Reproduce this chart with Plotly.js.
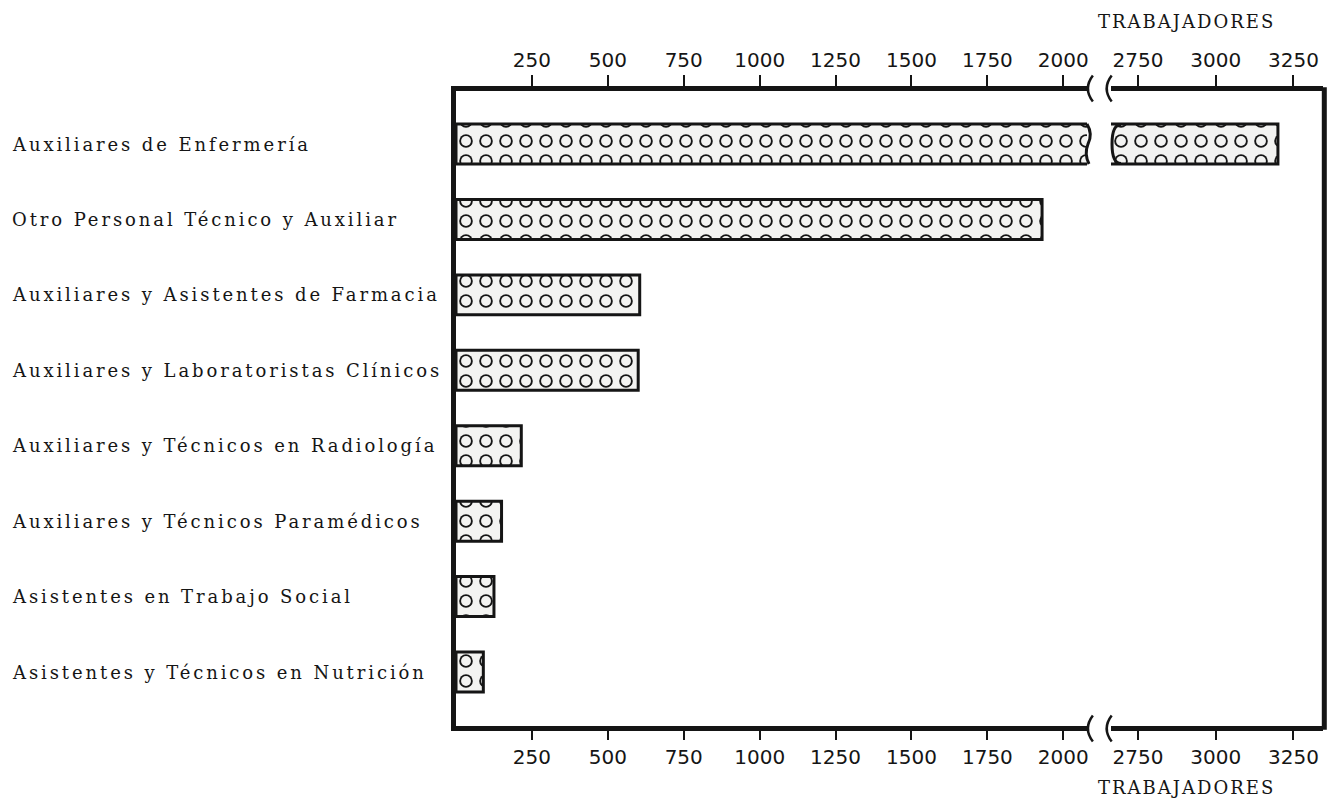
<!DOCTYPE html>
<html>
<head>
<meta charset="utf-8">
<script src="https://cdn.plot.ly/plotly-3.0.1.min.js"></script>
<style>
html, body { margin: 0; padding: 0; background: #ffffff; }
#chart { width: 1338px; height: 801px; }
</style>
</head>
<body>
<div id="chart"></div>
<script>
// ---- data ----
const categories = [
  "Auxiliares de Enfermería",
  "Otro Personal Técnico y Auxiliar",
  "Auxiliares y Asistentes de Farmacia",
  "Auxiliares y Laboratoristas Clínicos",
  "Auxiliares y Técnicos en Radiología",
  "Auxiliares y Técnicos Paramédicos",
  "Asistentes en Trabajo Social",
  "Asistentes y Técnicos en Nutrición"
];
const trabajadores = [3200, 1930, 605, 600, 215, 150, 125, 90];
const ticksLeft = [250, 500, 750, 1000, 1250, 1500, 1750, 2000];
const ticksRight = [2750, 3000, 3250];
const axisTitle = "TRABAJADORES";

// ---- style ----
const ink = "#151515";
const paperFill = "#f3f3f1";
const tickFont = { family: "DejaVu Sans, Liberation Sans, sans-serif", size: 20, color: ink };
const labelFont = { family: "DejaVu Serif, Liberation Serif, serif", size: 18, color: ink };

const idx = categories.map((c, i) => i);

function fillTrace(xa) {
  return {
    type: "bar", orientation: "h", x: trabajadores, y: idx, xaxis: xa, yaxis: "y",
    marker: {
      color: paperFill,
      line: { width: 0 },
      pattern: { shape: ".", fgcolor: ink, bgcolor: paperFill, fillmode: "overlay",
                 fgopacity: 1, size: 20, solidity: 0.363 }
    },
    hoverinfo: "skip", showlegend: false
  };
}
function holeTrace(xa) {
  return {
    type: "bar", orientation: "h", x: trabajadores, y: idx, xaxis: xa, yaxis: "y",
    marker: {
      color: "rgba(0,0,0,0)",
      line: { width: 0 },
      pattern: { shape: ".", fgcolor: paperFill, bgcolor: "rgba(0,0,0,0)", fillmode: "replace",
                 fgopacity: 1, size: 20, solidity: 0.19 }
    },
    hoverinfo: "skip", showlegend: false
  };
}
function outlineTrace(xa) {
  return {
    type: "bar", orientation: "h", x: trabajadores, y: idx, xaxis: xa, yaxis: "y",
    marker: { color: "rgba(0,0,0,0)", line: { width: 3, color: ink } },
    hoverinfo: "skip", showlegend: false
  };
}

const data = [
  fillTrace("x"), holeTrace("x"), outlineTrace("x3"),
  fillTrace("x2"), holeTrace("x2"), outlineTrace("x4")
];

const leftDomain = [0, 0.7278];
const rightDomain = [0.7555, 1];
const leftRange = [0, 2078];
const rightRange = [2663, 3345];

function xax(extra) {
  return Object.assign({
    showline: true, linewidth: 5, linecolor: ink,
    ticks: "outside", ticklen: 10, tickwidth: 2, tickcolor: ink,
    showgrid: false, zeroline: false, tickfont: tickFont,
    anchor: "y", fixedrange: true, tickmode: "array"
  }, extra);
}

const annotations = categories.map((c, i) => ({
  xref: "paper", yref: "y", x: -0.5145, y: i,
  xanchor: "left", yanchor: "middle", showarrow: false,
  text: '<span style="letter-spacing:2.9px">' + c + '</span>',
  font: labelFont
}));
annotations.push({
  xref: "paper", yref: "paper", x: 0.842, y: 1.11, xanchor: "center", yanchor: "middle",
  showarrow: false, text: '<span style="letter-spacing:2px">' + axisTitle + '</span>', font: labelFont
});
annotations.push({
  xref: "paper", yref: "paper", x: 0.842, y: -0.097, xanchor: "center", yanchor: "middle",
  showarrow: false, text: '<span style="letter-spacing:2px">' + axisTitle + '</span>', font: labelFont
});

// axis-break marks and the broken bar ends
const bracket = "M 5,13 Q -5,0 5,-13";
function brk(xp, yp) {
  return { type: "path", xref: "paper", yref: "paper", xsizemode: "pixel", ysizemode: "pixel",
    xanchor: xp, yanchor: yp, path: bracket, line: { color: ink, width: 2.5 } };
}
const shapes = [
  brk(leftDomain[1] + 0.001, 1.004), brk(rightDomain[0] - 0.005, 1.004),
  brk(leftDomain[1] + 0.001, -0.004), brk(rightDomain[0] - 0.005, -0.004),
  { type: "path", xref: "paper", yref: "y", xsizemode: "pixel", ysizemode: "pixel",
    xanchor: leftDomain[1], yanchor: 0, path: "M 0,20 Q 6,10 1,0 Q -3,-10 2,-20",
    line: { color: ink, width: 3 } },
  { type: "path", xref: "paper", yref: "y", xsizemode: "pixel", ysizemode: "pixel",
    xanchor: rightDomain[0], yanchor: 0, path: "M 10,19.5 Q 1,19.5 1,0 Q 1,-19.5 10,-19.5",
    line: { color: ink, width: 3 } },
  { type: "line", xref: "paper", yref: "paper", x0: 1.0015, x1: 1.0015, y0: -0.006, y1: 1.006,
    line: { color: ink, width: 5 } }
];

const layout = {
  width: 1338, height: 801,
  margin: { l: 456, r: 15, t: 91, b: 75 },
  paper_bgcolor: "#ffffff", plot_bgcolor: "#ffffff",
  barmode: "overlay", bargap: 0.47,
  showlegend: false,
  xaxis: xax({ domain: leftDomain, range: leftRange, tickvals: ticksLeft, side: "bottom", ticklen: 9 }),
  xaxis2: xax({ domain: rightDomain, range: rightRange, tickvals: ticksRight, side: "bottom", ticklen: 9 }),
  xaxis3: xax({ overlaying: "x", range: leftRange, tickvals: ticksLeft, side: "top", ticklen: 11 }),
  xaxis4: xax({ overlaying: "x2", range: rightRange, tickvals: ticksRight, side: "top", ticklen: 11 }),
  yaxis: {
    domain: [0, 1], range: [7.716, -0.703], anchor: "x",
    showticklabels: false, ticks: "", showgrid: false, zeroline: false,
    showline: true, linewidth: 5, linecolor: ink, fixedrange: true
  },
  annotations: annotations,
  shapes: shapes
};

Plotly.newPlot("chart", data, layout, { staticPlot: true, displayModeBar: false });
</script>
</body>
</html>
